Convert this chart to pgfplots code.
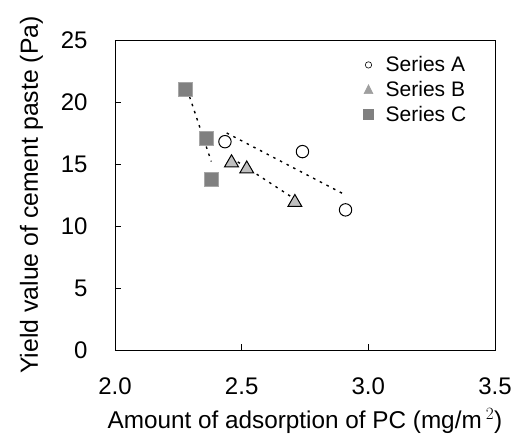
\documentclass[border=0pt]{standalone}
\usepackage{fontspec}
\setmainfont{Liberation Sans}
\usepackage{pgfplots}
\pgfplotsset{compat=1.18}
\begin{document}
\begin{tikzpicture}
\begin{axis}[
  name=ax,
  scale only axis,
  width=380bp, height=310bp,
  xmin=2.0, xmax=3.5, ymin=0, ymax=25,
  xtick={2.0,2.5,3.0,3.5}, ytick={0,5,10,15,20,25},
  xticklabels={2.0,2.5,3.0,3.5},
  tick align=inside,
  xtick pos=bottom, ytick pos=left,
  major tick length=6bp,
  axis line style={line width=0.9pt},
  tick style={black, line width=0.7pt},
  /pgf/number format/assume math mode=true,
  tick label style={font=\fontsize{24bp}{28bp}\selectfont},
  xticklabel style={yshift=-24bp},
  yticklabel style={xshift=-24bp},
  xlabel={Amount of adsorption of PC (mg/m\,$^{2}$)},
  ylabel={Yield value of cement paste (Pa)},
  xlabel style={yshift=-7bp, font=\fontsize{24.3bp}{28bp}\selectfont},
  ylabel style={yshift=11bp, font=\fontsize{24.8bp}{28bp}\selectfont},
  legend style={draw=none, fill=none, at={(0.645,0.96)}, anchor=north west,
    font=\fontsize{21bp}{24bp}\selectfont, row sep=4bp,
    cells={anchor=west}},
  legend cell align=left,
]
% trend lines
\addplot[black, dash pattern=on 2.5bp off 5bp, line width=1.4pt, forget plot] coordinates {(2.441,17.5) (2.91,12.5)};
\addplot[black, dash pattern=on 2.5bp off 5bp, line width=1.4pt, forget plot] coordinates {(2.46,15.5) (2.70,12.3)};
\addplot[black, dash pattern=on 2.5bp off 5bp, line width=1.4pt, forget plot] coordinates {(2.285,21.0) (2.38,15.2)};
% series A
\addplot[only marks, mark=o, mark size=6.2bp, mark options={draw=black, fill=white, line width=1pt},
  legend image code/.code={\path (-5bp,0) (15bp,0); \draw[black, line width=0.6pt, fill=white] (0,0) circle (3.2bp);}]
  coordinates {(2.434,16.8) (2.74,16.0) (2.91,11.3)};
\addlegendentry{Series A}
% series B
\addplot[only marks, mark=triangle*, mark size=8bp, mark options={draw=black, fill=gray!50, line width=1pt},
  legend image code/.code={\path (-5bp,0) (15bp,0); \fill[gray!75] (0,0) ++(-4.5bp,-4bp) -- ++(9bp,0) -- ++(-4.5bp,9bp) -- cycle;}]
  coordinates {(2.46,15.1) (2.52,14.6) (2.71,11.9)};
\addlegendentry{Series B}
% series C
\addplot[only marks, mark=square*, mark size=7bp, mark options={draw=gray!70, fill=gray, line width=0.5pt},
  legend image code/.code={\path (-5bp,0) (15bp,0); \fill[gray] (0,0) ++(-5bp,-5bp) rectangle ++(10bp,10bp);}]
  coordinates {(2.276,21.0) (2.36,17.1) (2.38,13.8)};
\addlegendentry{Series C}
\end{axis}
\pgfresetboundingbox
\useasboundingbox ([xshift=-115bp,yshift=-93bp]ax.south west) rectangle ([xshift=17bp,yshift=40bp]ax.north east);
\end{tikzpicture}
\end{document}
